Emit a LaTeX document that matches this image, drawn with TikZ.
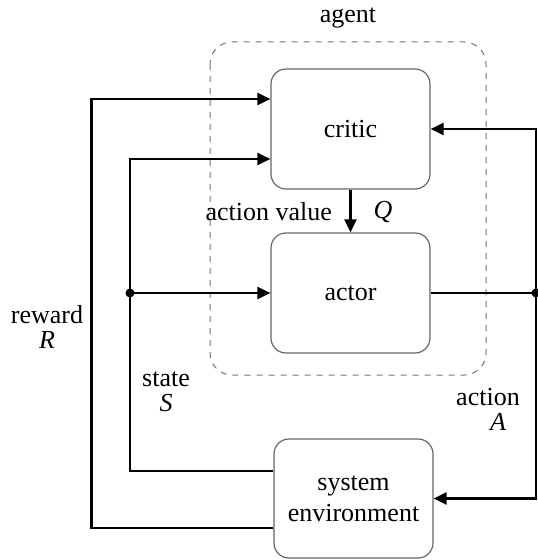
\documentclass[tikz,border=0pt]{standalone}
\usepackage{fontspec}
\setmainfont{Liberation Serif}
\usetikzlibrary{shapes.geometric, arrows.meta}
\tikzstyle{block} = [rectangle, rounded corners=7.5pt, minimum width=79.5pt, minimum height=60pt, text centered, draw=black!60, line width=0.6pt, align=center, font=\rmfamily\fontsize{13}{15.5}\selectfont]
\tikzstyle{group} = [draw=black!55, dashed, rounded corners=11pt, line width=0.5pt]
\tikzstyle{lbl} = [font=\rmfamily\fontsize{13}{12.5}\selectfont, align=center]
\tikzstyle{line} = [line width=1.1pt]
\tikzstyle{arrow} = [line width=1.1pt, ->, >={Triangle[length=6.5pt, width=6pt]}]
\tikzstyle{dot} = [circle, fill=black, inner sep=0pt, minimum size=4.5pt]

\begin{document}
\begin{tikzpicture}[x=0.5pt, y=-0.5pt]
		\useasboundingbox (0,0) rectangle (537,560);
		\draw [group] (210,42) rectangle (486,375);
		\node(agent) [lbl] at (348,18) {agent};
		\node(critic) [block] at (350.5,129) {critic};
		\node(actor) [block] at (350.5,293) {actor};
		\node(env) [block, minimum height=59.5pt] at (353.5,498.5) {system\\environment};
		\coordinate (split) at (130,293);
		\coordinate (junc) at (536,293);
		\node [dot] at (split) {};
		\node [dot] at (junc) {};
		% action value Q
		\draw [arrow] (critic) -- (actor);
		\node(qval) [lbl, anchor=east] at (339,212) {action value};
		\node(q) [lbl] at (383,212) {\textit{Q}};
		% state S
		\draw [line] ([yshift=13.75pt]env.west) -| (split);
		\draw [arrow] (split) -- (actor.west);
		\draw [arrow] (split) |- ([yshift=-15pt]critic.west);
		\node(state) [lbl] at (166,392) {state\\\textit{S}};
		% reward R
		\draw [arrow] ([yshift=-14.75pt]env.west) -- ++(-182,0) |- ([yshift=15pt]critic.west);
		\node(reward) [lbl] at (47,327) {reward\\\textit{R}};
		% action A
		\draw [line] (actor.east) -- (junc);
		\draw [arrow] (junc) |- (critic.east);
		\draw [arrow] (junc) |- (env.east);
		\node(action) [lbl] at (488,409) {action\\\hspace*{10pt}\textit{A}};
	\end{tikzpicture}
\end{document}
